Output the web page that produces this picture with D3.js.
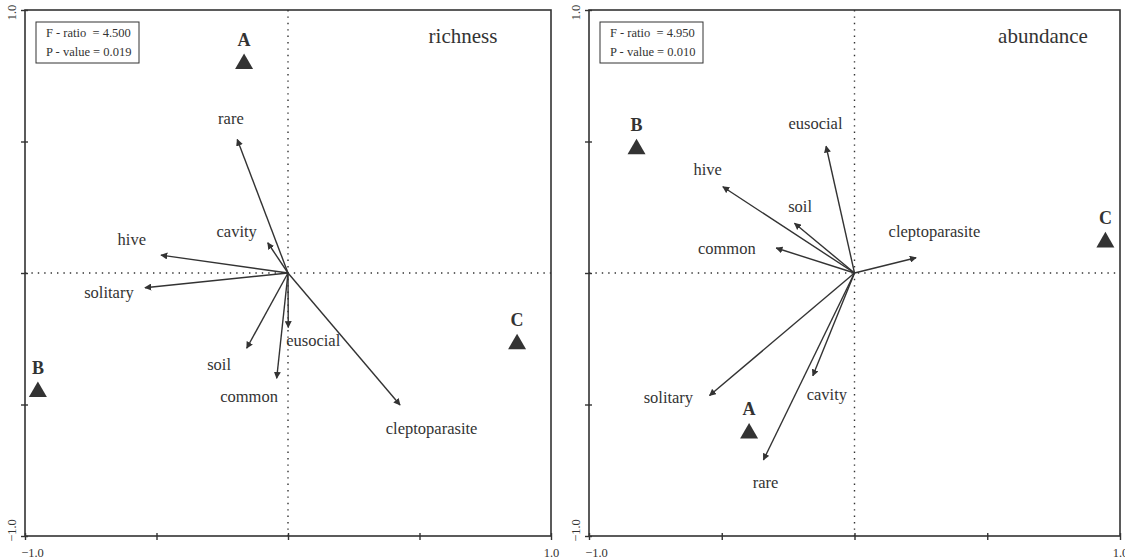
<!DOCTYPE html>
<html>
<head>
<meta charset="utf-8">
<script src="https://cdn.jsdelivr.net/npm/d3@7"></script>
<style>
  body { margin: 0; background: #fff; }
  text { font-family: "Liberation Serif", "DejaVu Serif", serif; fill: #333; }
  text.stat { white-space: pre; }
</style>
</head>
<body>
<svg id="chart" width="1125" height="560"></svg>
<script>
// ---- data ----
let variables = ["rare", "cavity", "hive", "solitary", "eusocial", "soil", "common", "cleptoparasite"]

// richness panel: arrow tips and label anchors (ordination units)
let richX = [-0.193, -0.077, -0.483, -0.544, 0.001, -0.157, -0.043, 0.426]
let richY = [0.508, 0.115, 0.068, -0.056, -0.207, -0.286, -0.400, -0.502]
let richLabelX = [-0.217, -0.195, -0.594, -0.681, 0.096, -0.262, -0.148, 0.546]
let richLabelY = [0.586, 0.157, 0.128, -0.076, -0.255, -0.347, -0.468, -0.590]

// abundance panel
let abunX = [-0.343, -0.157, -0.496, -0.546, -0.107, -0.226, -0.295, 0.232]
let abunY = [-0.711, -0.391, 0.328, -0.466, 0.482, 0.189, 0.095, 0.058]
let abunLabelX = [-0.335, -0.104, -0.553, -0.701, -0.147, -0.205, -0.481, 0.301]
let abunLabelY = [-0.798, -0.462, 0.394, -0.472, 0.570, 0.252, 0.093, 0.156]

// group centroids
let groups = ["A", "B", "C"]
let richGroupX = [-0.167, -0.951, 0.871]
let richGroupY = [0.795, -0.452, -0.270]
let abunGroupX = [-0.397, -0.821, 0.945]
let abunGroupY = [-0.610, 0.471, 0.117]

let axisTicks = [-1, -0.5, 0, 0.5, 1]
let panelTitles = ["richness", "abundance"]
let fRatios = ["4.500", "4.950"]
let pValues = ["0.019", "0.010"]

let ink = "#333"

function makeRows(xs, ys, lxs, lys) {
   return variables.map(function (v, i) {
      return { name: v, x: xs[i], y: ys[i], lx: lxs[i], ly: lys[i] }
   })
}

let panels = [
   {
      box: { left: 25, right: 551, top: 10, bottom: 536 },
      titleX: 463,
      title: panelTitles[0], f: fRatios[0], p: pValues[0],
      arrows: makeRows(richX, richY, richLabelX, richLabelY),
      groups: groups.map(function (g, i) { return { name: g, x: richGroupX[i], y: richGroupY[i] } })
   },
   {
      box: { left: 589, right: 1120, top: 10, bottom: 536 },
      titleX: 1043,
      title: panelTitles[1], f: fRatios[1], p: pValues[1],
      arrows: makeRows(abunX, abunY, abunLabelX, abunLabelY),
      groups: groups.map(function (g, i) { return { name: g, x: abunGroupX[i], y: abunGroupY[i] } })
   }
]

let svg = d3.select("#chart")

svg.append("defs").append("marker")
   .attr("id", "head")
   .attr("viewBox", "0 0 10 10")
   .attr("refX", 9)
   .attr("refY", 5)
   .attr("markerWidth", 7)
   .attr("markerHeight", 7)
   .attr("markerUnits", "userSpaceOnUse")
   .attr("orient", "auto")
   .append("path")
   .attr("d", "M0,0 L10,5 L0,10 z")
   .attr("fill", ink)

panels.forEach(function (p, pi) {
   let b = p.box
   let x = d3.scaleLinear().domain([-1, 1]).range([b.left, b.right])
   let y = d3.scaleLinear().domain([-1, 1]).range([b.bottom, b.top])

   let g = svg.append("g").attr("class", "panel" + pi)

   // dotted zero lines
   g.append("line")
      .attr("x1", x(0)).attr("x2", x(0))
      .attr("y1", b.top).attr("y2", b.bottom)
      .attr("stroke", ink).attr("stroke-width", 1.4)
      .attr("stroke-dasharray", "1.4,5")
   g.append("line")
      .attr("x1", b.left).attr("x2", b.right)
      .attr("y1", y(0)).attr("y2", y(0))
      .attr("stroke", ink).attr("stroke-width", 1.4)
      .attr("stroke-dasharray", "1.4,5")

   // frame
   g.append("rect")
      .attr("x", b.left).attr("y", b.top)
      .attr("width", b.right - b.left).attr("height", b.bottom - b.top)
      .attr("fill", "none").attr("stroke", ink).attr("stroke-width", 1.6)

   // bottom axis ticks (crossing the line)
   let bottomAxis = g.append("g")
      .attr("transform", "translate(0," + b.bottom + ")")
      .call(d3.axisBottom(x).tickValues(axisTicks).tickSize(4)
         .tickFormat(function (d) { return Math.abs(d) === 1 ? d3.format(".1f")(d) : "" }))
   bottomAxis.select(".domain").remove()
   bottomAxis.selectAll("g.tick line").attr("y1", -3).attr("y2", 4).attr("stroke", ink).attr("stroke-width", 1.4)
   bottomAxis.selectAll("g.tick text")
      .attr("y", 12)
      .attr("font-size", 12.5)
      .attr("fill", ink)
      .attr("dx", function (d) { return d === -1 ? 7 : 0 })

   // left axis ticks, rotated labels
   let leftAxis = g.append("g")
      .attr("transform", "translate(" + b.left + ",0)")
      .call(d3.axisLeft(y).tickValues(axisTicks).tickSize(4)
         .tickFormat(function (d) { return Math.abs(d) === 1 ? d3.format(".1f")(d) : "" }))
   leftAxis.select(".domain").remove()
   leftAxis.selectAll("g.tick line").attr("x1", -4).attr("x2", 3).attr("stroke", ink).attr("stroke-width", 1.4)
   leftAxis.selectAll("g.tick text")
      .attr("x", 0).attr("dy", 0)
      .attr("font-size", 12.5)
      .attr("fill", ink)
      .attr("text-anchor", "middle")
      .attr("transform", function (d) {
         return "translate(-9," + (d === 1 ? 2 : -6) + ") rotate(-90)"
      })

   // arrows
   g.selectAll("line.arrow").data(p.arrows)
      .join("line")
      .attr("class", "arrow")
      .attr("x1", x(0)).attr("y1", y(0))
      .attr("x2", function (d) { return x(d.x) })
      .attr("y2", function (d) { return y(d.y) })
      .attr("stroke", ink).attr("stroke-width", 1.4)
      .attr("marker-end", "url(#head)")

   g.selectAll("text.varLabel").data(p.arrows)
      .join("text")
      .attr("class", "varLabel")
      .attr("x", function (d) { return x(d.lx) })
      .attr("y", function (d) { return y(d.ly) })
      .attr("text-anchor", "middle")
      .attr("dominant-baseline", "central")
      .attr("font-size", 16.5)
      .text(function (d) { return d.name })

   // group centroids
   g.selectAll("path.group").data(p.groups)
      .join("path")
      .attr("class", "group")
      .attr("d", d3.symbol(d3.symbolTriangle, 140))
      .attr("transform", function (d) { return "translate(" + x(d.x) + "," + y(d.y) + ")" })
      .attr("fill", ink)

   g.selectAll("text.groupLabel").data(p.groups)
      .join("text")
      .attr("class", "groupLabel")
      .attr("x", function (d) { return x(d.x) })
      .attr("y", function (d) { return y(d.y) - 18 })
      .attr("text-anchor", "middle")
      .attr("font-size", 18)
      .attr("font-weight", "bold")
      .text(function (d) { return d.name })

   // title
   g.append("text")
      .attr("x", p.titleX)
      .attr("y", b.top + 33)
      .attr("text-anchor", "middle")
      .attr("font-size", 21)
      .text(p.title)

   // stats box
   g.append("rect")
      .attr("x", b.left + 11).attr("y", b.top + 12)
      .attr("width", 103).attr("height", 41)
      .attr("fill", "#fff").attr("stroke", ink).attr("stroke-width", 1)
   g.append("text")
      .attr("class", "stat")
      .attr("x", b.left + 21).attr("y", b.top + 27)
      .attr("font-size", 12.5)
      .text("F - ratio  = " + p.f)
   g.append("text")
      .attr("class", "stat")
      .attr("x", b.left + 21).attr("y", b.top + 46)
      .attr("font-size", 12.5)
      .text("P - value = " + p.p)
})
</script>
</body>
</html>
